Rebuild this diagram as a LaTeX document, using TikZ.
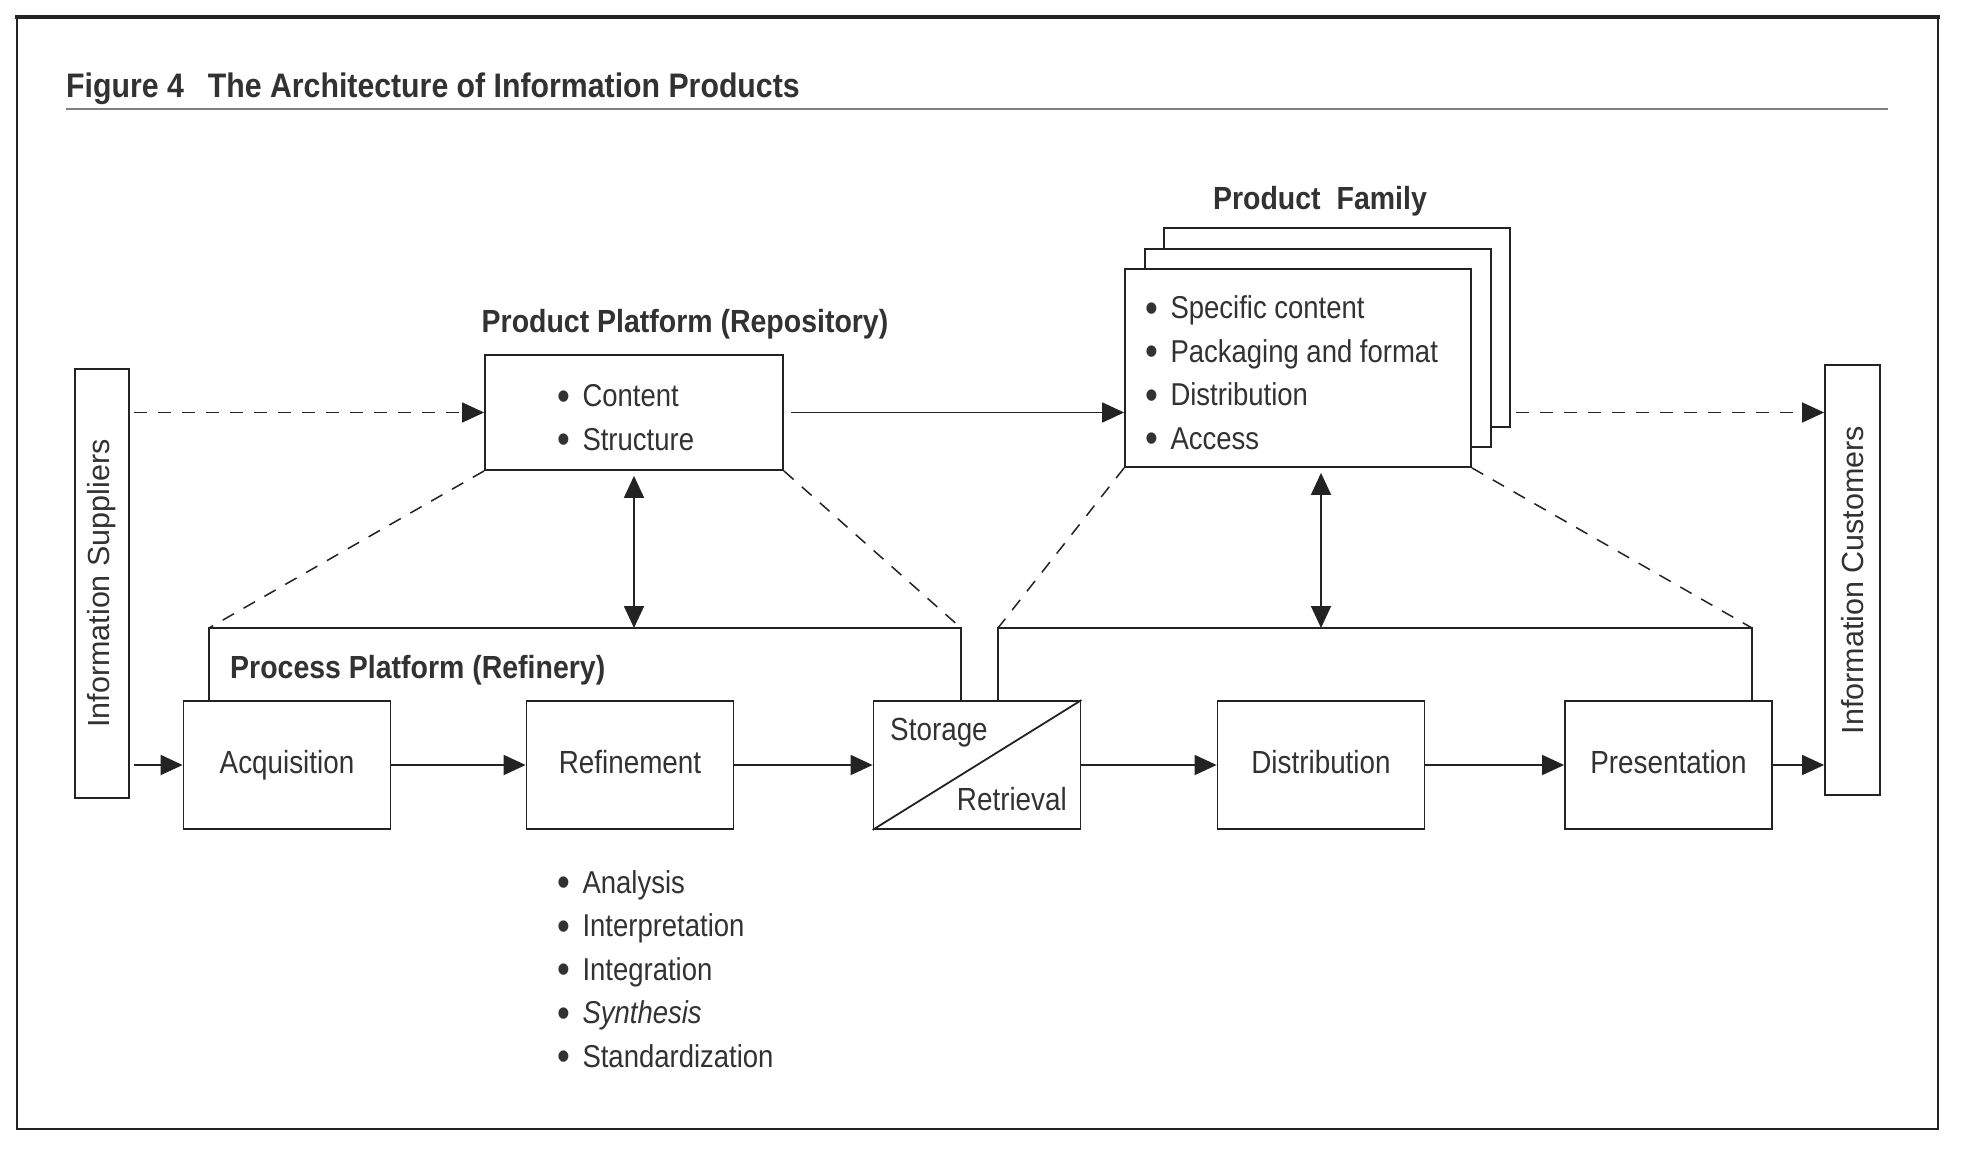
\documentclass[tikz,border=0pt]{standalone}
\usepackage{fontspec}
\setmainfont[FakeStretch=0.87]{Liberation Sans}
\newfontfamily\hdfont[FakeStretch=0.89]{Liberation Sans}
\newfontfamily\rotfont{Liberation Sans}
\usetikzlibrary{arrows.meta}
\definecolor{ink}{RGB}{35,35,35}
\definecolor{txt}{RGB}{50,50,50}
\tikzset{
  box/.style={draw=ink, line width=1.8pt, inner sep=0pt, fill=white},
  procbox/.style={box, minimum width=207pt, minimum height=128pt, text height=23pt, text depth=7pt,
    text=txt, font=\fontsize{32}{38}\selectfont},
  conn/.style={draw=ink, line width=1.8pt},
  tip/.tip={Triangle[length=22pt,width=20pt]},
  arr/.style={conn, -tip},
  dbl/.style={conn, tip-tip},
  dsh/.style={conn, line width=1.5pt, dash pattern=on 13pt off 11pt},
  lbl/.style={text=txt, inner sep=0pt, font=\fontsize{32}{38}\selectfont},
  lst/.style={text=txt, inner sep=0pt, align=left, font=\fontsize{31.6}{43.5}\selectfont},
  hd/.style={text=txt, inner sep=0pt, font=\hdfont\bfseries\fontsize{32}{38}\selectfont},
  rot/.style={text=txt, inner sep=0pt, rotate=90, font=\rotfont\fontsize{30.5}{36}\selectfont},
}
\newcommand{\bul}{\raisebox{-3.5pt}{\fontsize{42}{43.5}\selectfont\textbullet}\hspace{12.5pt}}
\begin{document}
\begin{tikzpicture}[x=1pt,y=-1pt]
\useasboundingbox (0,0) rectangle (1961,1154);
\fill[white] (0,0) rectangle (1961,1154);
% frame
\draw[ink, line width=1.6pt] (17,17) -- (17,1129) -- (1938,1129) -- (1938,17);
\draw[ink, line width=3.5pt] (15,17) -- (1940,17);
% title
\node[anchor=base west, inner sep=0pt, text=txt, font=\hdfont\bfseries\fontsize{34}{40}\selectfont] (title) at (66,97)
  {Figure 4\hspace{24pt}The Architecture of Information Products};
\draw[gray, line width=1.2pt] (66,109) -- (1888,109);

% side boxes
\node[box, minimum width=54pt, minimum height=429pt] (supp) at (102,583.5) {};
\node[rot] (supptxt) at (supp.center) {Information Suppliers};
\node[box, minimum width=55pt, minimum height=430pt] (cust) at (1852.5,580) {};
\node[rot] (custtxt) at (cust.center) {Information Customers};

% product platform
\node[box, minimum width=298pt, minimum height=115pt] (pp) at (634,412.5) {};
\node[hd, anchor=base] (pphd) at (685,332) {Product Platform (Repository)};
\node[lst, anchor=base west] (pplist) at (557,450) {\bul Content\\ \bul Structure};

% product family
\node[box, minimum width=346pt, minimum height=199pt] (pf3) at (1337,327.5) {};
\node[box, minimum width=346pt, minimum height=198pt] (pf2) at (1318,348) {};
\node[box, minimum width=346pt, minimum height=198pt] (pf1) at (1298,368) {};
\node[hd, anchor=base] (pfhd) at (1320,209) {Product\hspace{16pt}Family};
\node[lst, anchor=base west] (pflist) at (1145,449)
  {\bul Specific content\\ \bul Packaging and format\\ \bul Distribution\\ \bul Access};

% process boxes
\node[procbox] (acq) at (287,765) {Acquisition};
\node[procbox] (ref) at (630,765) {Refinement};
\node[procbox] (sto) at (977,765) {};
\node[procbox] (dist) at (1321,765) {Distribution};
\node[procbox] (pres) at (1668.5,765) {Presentation};
\draw[conn] (sto.south west) -- (sto.north east);
\node[lbl, anchor=base west] (stotxt) at (890,740) {Storage};
\node[lbl, anchor=base east] (rettxt) at (1067,810) {Retrieval};

\node[hd, anchor=base west] (prochd) at (230,678) {Process Platform (Refinery)};
\node[lst, anchor=base west] (reflist) at (557,1067)
  {\bul Analysis\\ \bul Interpretation\\ \bul Integration\\ \bul \textit{Synthesis}\\ \bul Standardization};

% bracket coordinates
\coordinate (bl1) at (209,628);
\coordinate (br1) at (961,628);
\coordinate (bl2) at (998,628);
\coordinate (br2) at (1752,628);
\draw[conn] (bl1 |- acq.north) -- (bl1) -- (br1) -- (br1 |- sto.north);
\draw[conn] (bl2 |- sto.north) -- (bl2) -- (br2) -- (br2 |- pres.north);

% dashed platform links
\draw[dsh] (pp.south west) -- (bl1);
\draw[dsh] (pp.south east) -- (br1);
\draw[dsh] (pf1.south west) -- (bl2);
\draw[dsh] (pf1.south east) -- (br2);

% double arrows
\draw[dbl, shorten <=5pt] (pp.south) -- (pp.south |- bl1);
\draw[dbl, shorten <=5pt] (dist.north |- pf1.south) -- (dist.north |- br2);

% top flow
\draw[dsh, -tip, shorten <=4pt] (supp.east |- pp.west) -- (pp.west);
\draw[arr, shorten <=7pt] (pp.east) -- (pf1.west |- pp.east);
\draw[dsh, -tip, shorten <=5pt] (pf3.east |- pp.east) -- (cust.west |- pp.east);

% bottom flow
\draw[arr, shorten <=4pt] (supp.east |- acq.west) -- (acq.west);
\draw[arr] (acq.east) -- (ref.west);
\draw[arr] (ref.east) -- (sto.west);
\draw[arr] (sto.east) -- (dist.west);
\draw[arr] (dist.east) -- (pres.west);
\draw[arr] (pres.east) -- (cust.west |- pres.east);
\end{tikzpicture}
\end{document}
